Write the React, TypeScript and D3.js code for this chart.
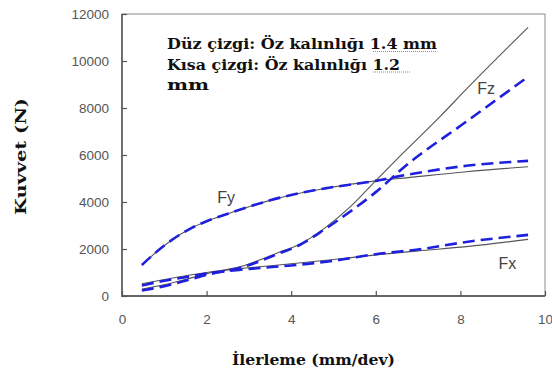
import React, { useEffect, useRef } from 'react';
import * as d3 from 'd3';

// x: İlerleme (mm/dev), y: Kuvvet (N)
const fxSolid: [number, number][] = [[0.47, 520], [1, 700], [1.5, 860], [2, 1000], [3, 1200], [4, 1370], [5, 1550], [6, 1750], [7, 1920], [8.14, 2100], [9.6, 2410]];
const fxDashed: [number, number][] = [[0.47, 450], [1, 650], [1.5, 800], [2, 960], [3, 1150], [4, 1300], [5, 1500], [6, 1780], [7, 1980], [8.14, 2300], [9.6, 2600]];
const fySolid: [number, number][] = [[0.47, 1320], [1, 2150], [1.65, 2900], [2, 3180], [2.5, 3500], [3, 3800], [3.5, 4070], [4, 4300], [4.8, 4580], [6, 4900], [6.56, 5000], [8.14, 5290], [9.6, 5500]];
const fyDashed: [number, number][] = [[0.47, 1320], [1, 2150], [1.65, 2900], [2, 3180], [2.5, 3500], [3, 3800], [3.5, 4070], [4, 4300], [4.8, 4580], [6, 4900], [6.56, 5100], [8.14, 5540], [9.6, 5750]];
const fzSolid: [number, number][] = [[0.47, 300], [1, 480], [1.5, 700], [2, 950], [2.8, 1250], [3.7, 1850], [4.2, 2200], [4.8, 2900], [5.4, 3800], [6, 4910], [6.56, 5930], [7.5, 7600], [8.14, 8800], [9.6, 11430]];
const fzDashed: [number, number][] = [[0.47, 230], [1, 420], [1.5, 650], [2, 900], [2.8, 1200], [3.7, 1800], [4.2, 2170], [4.8, 2850], [5.4, 3600], [6, 4420], [6.68, 5500], [8.14, 7420], [9.6, 9330]];

const xTicks = [0, 2, 4, 6, 8, 10];
const yTicks = [0, 2000, 4000, 6000, 8000, 10000, 12000];

const seriesLabels = [
  { text: 'Fx', x: 8.9, y: 1150 },
  { text: 'Fy', x: 2.25, y: 3950 },
  { text: 'Fz', x: 8.4, y: 8600 },
];

const noteLines = ['Düz çizgi: Öz kalınlığı 1.4 mm', 'Kısa çizgi: Öz kalınlığı 1.2', 'mm'];
const noteWidths = [270, 233, 42];

const serif = "'DejaVu Serif', 'Liberation Serif', serif";
const sans = "'Liberation Sans', Arial, sans-serif";

const App = () => {
  const ref = useRef<SVGSVGElement | null>(null);

  useEffect(() => {
    const svg = d3.select(ref.current);
    svg.selectAll('*').remove();

    const width = 552;
    const height = 374;
    const margin = { top: 14, right: 7, bottom: 78, left: 122 };

    svg.attr('width', width).attr('height', height);

    const x = d3.scaleLinear().domain([0, 10]).range([margin.left, width - margin.right]);
    const y = d3.scaleLinear().domain([0, 12000]).range([height - margin.bottom, margin.top]);

    // frame
    svg.append('rect')
      .attr('x', x(0)).attr('y', y(12000))
      .attr('width', x(10) - x(0)).attr('height', y(0) - y(12000))
      .attr('fill', 'none').attr('stroke', '#8a8a8a').attr('stroke-width', 1);
    svg.append('path')
      .attr('d', `M${x(0)},${y(12000)}V${y(0)}H${x(10)}`)
      .attr('fill', 'none').attr('stroke', '#666').attr('stroke-width', 1.8);

    const xAxis = svg.append('g')
      .attr('transform', `translate(0,${y(0)})`)
      .call(d3.axisBottom(x).tickValues(xTicks).tickSize(-5).tickPadding(18).tickFormat(d3.format('d')));
    xAxis.select('.domain').remove();

    const yAxis = svg.append('g')
      .attr('transform', `translate(${x(0)},0)`)
      .call(d3.axisLeft(y).tickValues(yTicks).tickSize(-5).tickPadding(13).tickFormat(d3.format('d')));
    yAxis.select('.domain').remove();

    svg.selectAll('.tick line').attr('stroke', '#555').attr('stroke-width', 1.2);
    svg.selectAll('.tick text')
      .attr('fill', '#555')
      .style('font-family', sans)
      .style('font-size', '13.5px');

    const line = d3.line<[number, number]>().x(d => x(d[0])).y(d => y(d[1])).curve(d3.curveMonotoneX);

    [fxSolid, fySolid, fzSolid].forEach(s => {
      svg.append('path').attr('d', line(s)).attr('fill', 'none')
        .attr('stroke', '#555').attr('stroke-width', 1.1);
    });
    [fxDashed, fyDashed, fzDashed].forEach(s => {
      svg.append('path').attr('d', line(s)).attr('fill', 'none')
        .attr('stroke', '#1f1fe0').attr('stroke-width', 2.6)
        .attr('stroke-dasharray', '12,6');
    });

    svg.selectAll('text.series')
      .data(seriesLabels)
      .enter().append('text')
      .attr('class', 'series')
      .attr('x', d => x(d.x)).attr('y', d => y(d.y))
      .attr('fill', '#444')
      .style('font-family', sans)
      .style('font-size', '16px')
      .text(d => d.text);

    const note = svg.append('g')
      .style('font-family', serif)
      .style('font-weight', 'bold').style('font-size', '15px').attr('fill', '#111');
    noteLines.forEach((t, i) => {
      note.append('text').attr('x', 167).attr('y', 49 + i * 20.5)
        .attr('textLength', noteWidths[i]).attr('lengthAdjust', 'spacingAndGlyphs')
        .text(t);
    });
    // spell-check underlines
    svg.append('line').attr('x1', 373).attr('x2', 437).attr('y1', 51.5).attr('y2', 51.5)
      .attr('stroke', '#b070b0').attr('stroke-width', 1).attr('stroke-dasharray', '1,1');
    svg.append('line').attr('x1', 373).attr('x2', 410).attr('y1', 72).attr('y2', 72)
      .attr('stroke', '#b070b0').attr('stroke-width', 1).attr('stroke-dasharray', '1,1');

    svg.append('text')
      .attr('x', 232).attr('y', 365)
      .attr('textLength', 163).attr('lengthAdjust', 'spacingAndGlyphs')
      .style('font-family', serif)
      .style('font-weight', 'bold').style('font-size', '15px')
      .attr('fill', '#111')
      .text('İlerleme (mm/dev)');

    svg.append('text')
      .attr('transform', `translate(26,215) rotate(-90)`)
      .attr('textLength', 117).attr('lengthAdjust', 'spacingAndGlyphs')
      .style('font-family', serif)
      .style('font-weight', 'bold').style('font-size', '15px')
      .attr('fill', '#111')
      .text('Kuvvet (N)');
  }, []);

  return (
    <div>
      <svg ref={ref} style={{ position: 'absolute', left: 0, top: 0 }}></svg>
    </div>
  );
};

export default App;
